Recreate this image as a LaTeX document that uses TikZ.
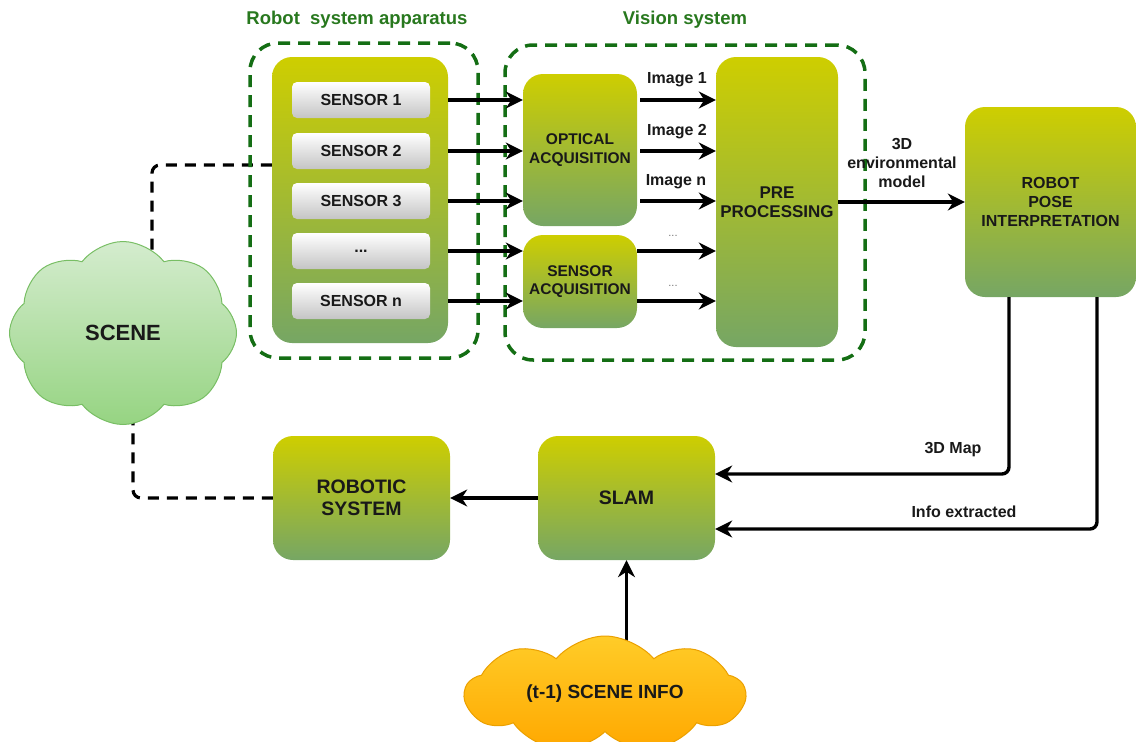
\documentclass[tikz,border=0pt]{standalone}
\usepackage{fontspec}
\setmainfont{Liberation Sans}
\usetikzlibrary{arrows.meta,shapes.symbols,backgrounds}
\definecolor{boxtop}{RGB}{206,206,0}
\definecolor{boxbot}{RGB}{118,166,100}
\definecolor{dgreen}{RGB}{20,110,20}
\definecolor{ttlgreen}{RGB}{40,120,30}
\definecolor{txt}{RGB}{25,25,25}
\definecolor{scenetop}{RGB}{212,236,206}
\definecolor{scenebot}{RGB}{150,212,130}
\definecolor{sceneedge}{RGB}{120,190,100}
\definecolor{orgtop}{RGB}{255,204,40}
\definecolor{orgbot}{RGB}{255,168,0}
\definecolor{orgedge}{RGB}{235,160,0}
\begin{document}
\begin{tikzpicture}[x=1pt,y=-1pt,
  gbox/.style={rounded corners=20pt, top color=boxtop, bottom color=boxbot, draw=none, inner sep=0pt, align=center, font=\bfseries\fontsize{15.5}{18.5}\selectfont, text=txt},
  sbox/.style={rounded corners=5pt, top color=white, bottom color=black!23, draw=none, minimum width=138pt, minimum height=36pt, inner sep=0pt, font=\bfseries\fontsize{16}{18}\selectfont, text=txt},
  grp/.style={draw=dgreen, line width=3.5pt, dash pattern=on 12pt off 8pt, rounded corners=28pt, inner sep=0pt},
  arr/.style={line width=3.4pt, -{Stealth[length=17pt,width=17pt,inset=5.5pt]}},
  bdash/.style={line width=3.2pt, dash pattern=on 11pt off 8pt, rounded corners=8pt},
  lbl/.style={font=\bfseries\fontsize{16}{19}\selectfont, text=txt, inner sep=0pt, align=center},
  ttl/.style={font=\bfseries\fontsize{18.5}{22}\selectfont, text=ttlgreen, inner sep=0pt},
  dots/.style={font=\fontsize{11}{12}\selectfont, text=black!55, inner sep=0pt}
]
\useasboundingbox (0,0) rectangle (1136,742);
\clip (0,0) rectangle (1136,742);

% titles
\node[ttl] (t1) at (357,20) {Robot\ \ system apparatus};
\node[ttl] (t2) at (685,20) {Vision system};

% group frames
\node[grp, minimum width=228pt, minimum height=315pt] (g1) at (364,200.5) {};
\node[grp, minimum width=360pt, minimum height=315pt] (g2) at (685,202.5) {};

% apparatus
\node[gbox, minimum width=176pt, minimum height=286pt] (app) at (360,200) {};
\node[sbox] (s1) at (361,100) {SENSOR 1};
\node[sbox] (s2) at (361,151) {SENSOR 2};
\node[sbox] (s3) at (361,201) {SENSOR 3};
\node[sbox] (s4) at (361,251) {...};
\node[sbox] (s5) at (361,301) {SENSOR n};

% vision system
\node[gbox, minimum width=114pt, minimum height=152pt] (opt) at (580,150) {OPTICAL\\ACQUISITION};
\node[gbox, minimum width=114pt, minimum height=93pt] (sacq) at (580,281.5) {SENSOR\\ACQUISITION};
\node[gbox, minimum width=122pt, minimum height=290pt, font=\bfseries\fontsize{17}{19.5}\selectfont] (pre) at (777,202) {PRE\\PROCESSING};

% pose
\node[gbox, minimum width=171pt, minimum height=190pt, font=\bfseries\fontsize{16}{19}\selectfont] (pose) at (1050.5,202) {ROBOT\\POSE\\INTERPRETATION};

% bottom row
\node[gbox, minimum width=177pt, minimum height=124pt, font=\bfseries\fontsize{19.5}{22}\selectfont] (slam) at (626.5,498) {SLAM};
\node[gbox, minimum width=177pt, minimum height=124pt, font=\bfseries\fontsize{19.5}{22}\selectfont] (robotic) at (361.5,498) {ROBOTIC\\SYSTEM};

% clouds
\node[cloud, cloud puffs=8, cloud puff arc=105, cloud ignores aspect, minimum width=227pt, minimum height=183pt, top color=scenetop, bottom color=scenebot, draw=sceneedge, line width=1pt, inner sep=0pt, font=\bfseries\fontsize{22}{26}\selectfont, text=txt] (scene) at (123,333) {SCENE};
\node[cloud, cloud puffs=9, cloud puff arc=100, cloud ignores aspect, minimum width=280pt, minimum height=116pt, top color=orgtop, bottom color=orgbot, draw=orgedge, line width=1pt, inner sep=0pt, font=\bfseries\fontsize{19}{22}\selectfont, text=txt] (info) at (605,694) {(t-1) SCENE INFO};

% black dashed links and arrow from cloud (behind clouds)
\coordinate (c1) at (152,165);
\coordinate (c2) at (133,498);
\begin{pgfonlayer}{background}
\draw[bdash] (app.west |- c1) -| (scene.center -| c1);
\draw[bdash] (robotic.west |- c2) -| (scene.center -| c2);
\draw[arr] (info.center -| slam.south) -- (slam.south);
\end{pgfonlayer}

% sensor arrows
\draw[arr] (s1 -| app.east) -- (s1 -| opt.west);
\draw[arr] (s2 -| app.east) -- (s2 -| opt.west);
\draw[arr] (s3 -| app.east) -- (s3 -| opt.west);
\draw[arr] (s4 -| app.east) -- (s4 -| sacq.west);
\draw[arr] (s5 -| app.east) -- (s5 -| sacq.west);

% image arrows
\draw[arr, shorten <=3pt] (s1 -| opt.east) -- (s1 -| pre.west);
\draw[arr, shorten <=3pt] (s2 -| opt.east) -- (s2 -| pre.west);
\draw[arr, shorten <=3pt] (s3 -| opt.east) -- (s3 -| pre.west);
\draw[arr] (s4 -| sacq.east) -- (s4 -| pre.west);
\draw[arr] (s5 -| sacq.east) -- (s5 -| pre.west);
\node[lbl] (im1) at (677,80) {Image 1};
\node[lbl] (im2) at (677,132) {Image 2};
\node[lbl] (imn) at (676,182) {Image n};
\node[dots] (d1) at (673,236) {...};
\node[dots] (d2) at (673,286) {...};

% 3D env model
\draw[arr] (pre.east) -- (pose.west);
\node[lbl] (env) at (902,163) {3D\\environmental\\model};

% pose to slam
\coordinate (m1) at (1009,474);
\coordinate (m2) at (1097,529);
\draw[arr, rounded corners=7pt] (pose.south -| m1) |- (slam.east |- m1);
\draw[arr, rounded corners=7pt] (pose.south -| m2) |- (slam.east |- m2);
\node[lbl] (map) at (953,450) {3D Map};
\node[lbl] (ext) at (964,512) {Info extracted};

% slam to robotic
\draw[arr] (slam.west) -- (robotic.east);
\end{tikzpicture}
\end{document}
